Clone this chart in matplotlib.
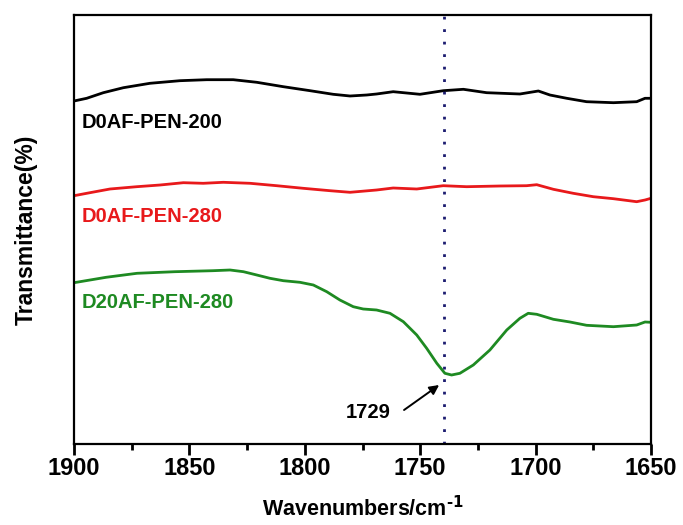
import numpy as np
from matplotlib import pyplot as plt

# transmittance in arbitrary units (no y scale shown)
wn_200 = [1900, 1894.5, 1887.3, 1878.6, 1867.1, 1854.1, 1842.5, 1831.0, 1820.8, 1809.3,
          1797.7, 1787.7, 1780.4, 1773.2, 1768.9, 1761.7, 1750.1, 1740.0, 1731.3, 1721.2,
          1706.8, 1698.8, 1693.8, 1686.5, 1677.9, 1666.3, 1656.2, 1652.6, 1650]
t_200 = [343, 345.7, 351.3, 356.3, 360.7, 363.3, 364.3, 364.3, 361.7, 357.3,
         353.3, 349.7, 348, 349, 350, 352.3, 349.7, 353.3, 354.7, 351.3,
         350, 353, 349, 345.7, 342.3, 341.3, 342.3, 345.7, 345.7]

wn_280 = [1900, 1893.1, 1884.4, 1872.8, 1862.7, 1852.6, 1844.0, 1835.3, 1823.7, 1812.2,
          1800.7, 1789.1, 1780.4, 1768.9, 1761.7, 1751.5, 1740.0, 1729.9, 1715.4, 1703.9,
          1699.5, 1692.3, 1683.7, 1675.0, 1666.3, 1656.2, 1652.6, 1650]
t_280 = [248.3, 251.3, 255, 257.3, 259, 261.3, 260.7, 261.7, 260.7, 258.3,
         255.7, 253.3, 251.7, 254, 256, 255, 258.3, 257.3, 258, 258.3,
         259.3, 254.7, 250.7, 247.3, 245.3, 242.3, 244, 245.7]

wn_20af = [1900, 1886.1, 1872.7, 1856.3, 1839.8, 1832.4, 1826.6, 1820.8, 1815.1, 1809.3,
           1802.1, 1796.3, 1790.5, 1784.8, 1779.0, 1774.7, 1768.9, 1763.1, 1757.3, 1751.5,
           1747.2, 1742.8, 1739.3, 1736.4, 1732.8, 1727.0, 1719.8, 1712.5, 1706.8, 1703.2,
           1699.5, 1692.3, 1685.1, 1677.9, 1666.3, 1656.2, 1652.6, 1650]
t_20af = [161.3, 166.7, 170.7, 172.3, 173.3, 174, 172.3, 169, 165.7, 163.3,
          161.7, 159, 152.3, 144, 137.3, 135, 134, 130.7, 122.3, 109,
          95.7, 80.7, 70.7, 69, 70.7, 79, 94, 114, 125.7, 130.7,
          129.7, 124.7, 122, 118.7, 117.3, 119, 122, 121.7]

names = ['D0AF-PEN-200', 'D0AF-PEN-280', 'D20AF-PEN-280']
colors = ['black', '#e8191b', '#1e8a22']
label_y = [321, 228, 142]
peak_pos = 1739.5
peak_label = '1729'

plt.rcParams['font.family'] = ['Liberation Sans', 'DejaVu Sans']
plt.rcParams['font.weight'] = 'bold'

fig = plt.figure(figsize=(6.83, 5.25), dpi=100)
ax = fig.add_axes([74 / 683, 1 - 444 / 525, 577 / 683, 429 / 525])

for wn, t, c in zip([wn_200, wn_280, wn_20af], [t_200, t_280, t_20af], colors):
    ax.plot(wn, t, color=c, lw=2.0, solid_joinstyle='round')

for name, y, c in zip(names, label_y, colors):
    ax.text(1896.5, y, name, color=c, fontsize=14.5, fontweight='bold', va='center', ha='left')

ax.axvline(peak_pos, color='#1c1c70', lw=2, linestyle=(0, (1, 3.5)))
ax.text(1772.6, 31, peak_label, fontsize=14.5, fontweight='bold', ha='center', va='center')
ax.annotate('', xy=(1741.8, 59), xytext=(1757, 34),
            arrowprops=dict(arrowstyle='-|>', color='black', lw=1.4, mutation_scale=14,
                            shrinkA=0, shrinkB=0))

ax.set_xlim(1900, 1650)
ax.set_ylim(0, 429)
ax.set_xticks(np.arange(1900, 1649, -50))
ax.set_xticks(np.arange(1875, 1650, -50), minor=True)
ax.set_yticks([])
ax.tick_params(axis='x', which='major', direction='out', length=8, width=2, labelsize=17, pad=1.5)
ax.tick_params(axis='x', which='minor', direction='out', length=4, width=2)
for lbl in ax.get_xticklabels():
    lbl.set_fontweight('bold')
for sp in ax.spines.values():
    sp.set_linewidth(1.6)

ax.set_xlabel('Wavenumbers/cm$^{\\text{-1}}$', fontsize=15.5, fontweight='bold', va='center')
ax.xaxis.set_label_coords(0.5, -(509 - 444) / 429)
ax.set_ylabel('Transmittance(%)', fontsize=16.5, fontweight='bold', va='center')
ax.yaxis.set_label_coords(-(74 - 26) / 577, 0.5)

plt.savefig('out.png', dpi=100)
